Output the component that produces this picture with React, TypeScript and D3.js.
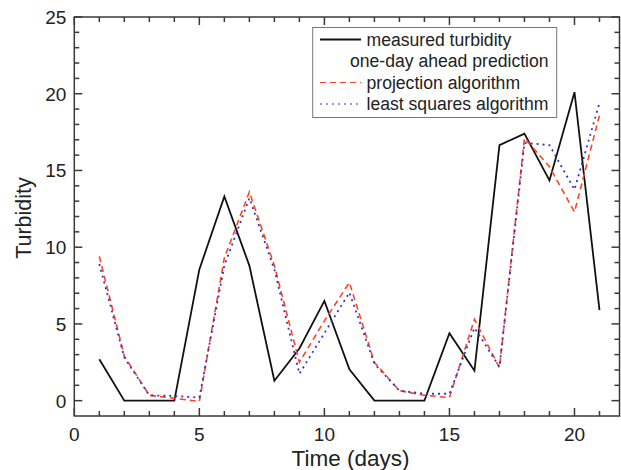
import React from 'react';
import * as d3 from 'd3';

const days = [1, 2, 3, 4, 5, 6, 7, 8, 9, 10, 11, 12, 13, 14, 15, 16, 17, 18, 19, 20, 21];
const measured = [2.7, 0, 0, 0, 8.55, 13.3, 8.8, 1.3, 3.4, 6.5, 2.05, 0, 0, 0, 4.4, 1.95, 16.65, 17.4, 14.35, 20.1, 5.9];
const projection = [9.4, 2.9, 0.35, 0.15, -0.05, 9.3, 13.6, 8.8, 2.5, 5.2, 7.7, 2.5, 0.65, 0.35, 0.2, 5.3, 2.15, 17.1, 15.25, 12.3, 18.6];
const leastSquares = [8.9, 2.8, 0.35, 0.3, 0.2, 8.8, 13.2, 8.55, 1.75, 4.4, 7.05, 2.4, 0.65, 0.45, 0.45, 4.75, 2.2, 16.8, 16.65, 13.75, 19.4];

const xMajor = [0, 5, 10, 15, 20];
const yMajor = [0, 5, 10, 15, 20, 25];

const W = 621;
const H = 470;
const left = 74.3;
const right = 619.5;
const top = 17;
const bottom = 416;

const font = '"Liberation Sans", Arial, Helvetica, sans-serif';
const axisColor = '#3a3a3a';

const App = () => {
  const x = d3.scaleLinear().domain([0, 21.8]).range([left, right]);
  const y = d3.scaleLinear().domain([-1, 25]).range([bottom, top]);

  const line = d3.line<number>()
    .x((_, i) => x(days[i]))
    .y(d => y(d));

  const xMinor = d3.range(0, 22, 1);
  const yMinor = d3.range(0, 26, 1);

  const series = [
    { name: 'measured turbidity', values: measured, color: '#111', dash: 'none', width: 1.8 },
    { name: 'projection algorithm', values: projection, color: '#ff4422', dash: '6,4', width: 1.6 },
    { name: 'least squares algorithm', values: leastSquares, color: '#3333cc', dash: '2,4', width: 1.8 }
  ];

  const lg = { x: 312.7, y: 27.5, w: 244, h: 90 };
  const rows = [39.5, 61, 82.5, 104];

  return (
    <svg width={W} height={H} style={{ position: 'absolute', left: 0, top: 0, background: '#fff' }}>
      <rect x={0} y={0} width={W} height={H} fill="#fff" />

      {/* data */}
      <g fill="none">
        {series.map(s => (
          <path key={s.name} d={line(s.values) || ''} stroke={s.color}
            strokeWidth={s.width} strokeDasharray={s.dash} strokeLinejoin="miter" />
        ))}
      </g>

      {/* frame and ticks */}
      <g stroke={axisColor} strokeWidth={1.5}>
        <rect x={left} y={top} width={right - left} height={bottom - top} fill="none" />
        {xMinor.map(v => {
          const len = v % 5 === 0 ? 8 : 5;
          return (
            <g key={'xt' + v}>
              <line x1={x(v)} x2={x(v)} y1={bottom} y2={bottom - len} />
              <line x1={x(v)} x2={x(v)} y1={top} y2={top + len} />
            </g>
          );
        })}
        {yMinor.map(v => {
          const len = v % 5 === 0 ? 8 : 5;
          return (
            <g key={'yt' + v}>
              <line x1={left} x2={left + len} y1={y(v)} y2={y(v)} />
              <line x1={right} x2={right - len} y1={y(v)} y2={y(v)} />
            </g>
          );
        })}
      </g>

      {/* tick labels */}
      <g fontFamily={font} fontSize={19} fill="#222">
        {xMajor.map(v => (
          <text key={'xl' + v} x={x(v)} y={441} textAnchor="middle">{v}</text>
        ))}
        {yMajor.map(v => (
          <text key={'yl' + v} x={left - 8} y={y(v) + 7} textAnchor="end">{v}</text>
        ))}
      </g>

      {/* axis titles */}
      <text x={350.5} y={466} textAnchor="middle" fontFamily={font} fontSize={22.5} fill="#222">Time (days)</text>
      <text transform="translate(31,218) rotate(-90)" textAnchor="middle" fontFamily={font} fontSize={21.5} fill="#222">Turbidity</text>

      {/* legend */}
      <rect x={lg.x} y={lg.y} width={lg.w} height={lg.h} fill="#fff" stroke="#777" strokeWidth={1} />
      <g fontFamily={font} fontSize={17.6} fill="#222">
        <line x1={320} x2={361} y1={rows[0]} y2={rows[0]} stroke="#111" strokeWidth={1.8} />
        <text x={366.5} y={rows[0] + 6}>measured turbidity</text>
        <text x={350} y={rows[1] + 6}>one-day ahead prediction</text>
        <line x1={320} x2={361} y1={rows[2]} y2={rows[2]} stroke="#ff4422" strokeWidth={1.2} strokeDasharray="6,4" />
        <text x={366.5} y={rows[2] + 6}>projection algorithm</text>
        <line x1={320} x2={361} y1={rows[3]} y2={rows[3]} stroke="#3333cc" strokeWidth={1.2} strokeDasharray="2,4" />
        <text x={366.5} y={rows[3] + 6}>least squares algorithm</text>
      </g>
    </svg>
  );
};

export default App;
